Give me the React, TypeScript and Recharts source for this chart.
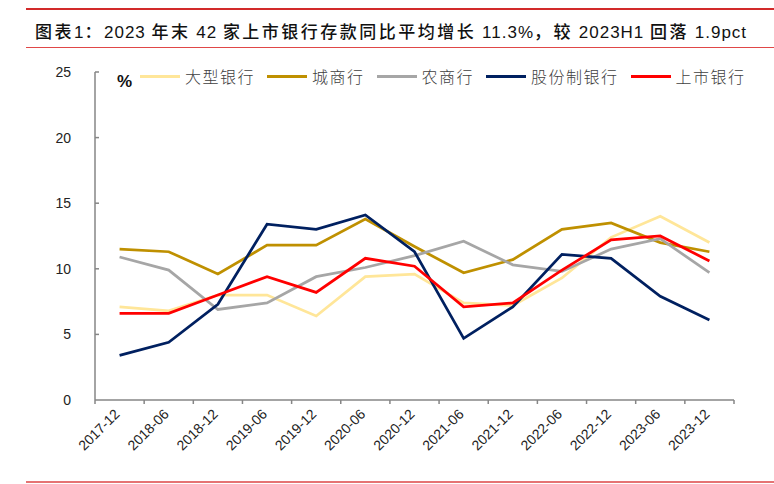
import React from "react";
import { Line, LineChart, XAxis, YAxis } from "recharts";

const categories = ["2017-12", "2018-06", "2018-12", "2019-06", "2019-12", "2020-06", "2020-12", "2021-06", "2021-12", "2022-06", "2022-12", "2023-06", "2023-12"];
const largeBanks = [7.1, 6.8, 8.0, 8.0, 6.4, 9.4, 9.6, 7.4, 7.2, 9.3, 12.4, 14.0, 12.0];
const cityBanks = [11.5, 11.3, 9.6, 11.8, 11.8, 13.8, 11.7, 9.7, 10.7, 13.0, 13.5, 12.0, 11.3];
const ruralBanks = [10.9, 9.9, 6.9, 7.4, 9.4, 10.1, 11.0, 12.1, 10.3, 9.8, 11.5, 12.3, 9.7];
const jointStockBanks = [3.4, 4.4, 7.3, 13.4, 13.0, 14.1, 11.3, 4.7, 7.1, 11.1, 10.8, 7.9, 6.1];
const listedBanks = [6.6, 6.6, 8.0, 9.4, 8.2, 10.8, 10.2, 7.1, 7.4, 9.9, 12.2, 12.5, 10.6];
const yTicks = [0, 5, 10, 15, 20, 25];

const title = "图表1：2023 年末 42 家上市银行存款同比平均增长 11.3%，较 2023H1 回落 1.9pct";

const series = [
  { key: "large", name: "大型银行", values: largeBanks, color: "#FFE699" },
  { key: "city", name: "城商行", values: cityBanks, color: "#BF9000" },
  { key: "rural", name: "农商行", values: ruralBanks, color: "#A6A6A6" },
  { key: "joint", name: "股份制银行", values: jointStockBanks, color: "#002060" },
  { key: "listed", name: "上市银行", values: listedBanks, color: "#FF0000" },
];

const data = categories.map((label, i) => {
  const row: Record<string, string | number> = { label };
  series.forEach((s) => (row[s.key] = s.values[i]));
  return row;
});

const PLOT_LEFT = 95;
const PLOT_RIGHT = 734;
const STEP = (PLOT_RIGHT - PLOT_LEFT) / categories.length;
const AXIS = "#868686";
const FONT = "'Liberation Sans', Arial, sans-serif";
const CJK = "'Noto Sans CJK SC', sans-serif";

function XTick(props: any) {
  const { x, y, payload, index, visibleTicksCount } = props;
  const last = index === visibleTicksCount - 1;
  return (
    <g>
      <line x1={x - STEP / 2} x2={x - STEP / 2} y1={y} y2={y + 4} stroke={AXIS} strokeWidth={1.5} />
      {last && <line x1={x + STEP / 2} x2={x + STEP / 2} y1={y} y2={y + 4} stroke={AXIS} strokeWidth={1.5} />}
      <text
        x={x + 1}
        y={y + 15}
        transform={`rotate(-45, ${x + 1}, ${y + 15})`}
        textAnchor="end"
        fontSize={14}
        fontFamily={FONT}
        fill="#222"
      >
        {payload.value}
      </text>
    </g>
  );
}

function YTick(props: any) {
  const { x, y, payload } = props;
  return (
    <g>
      {payload.value !== 0 && <line x1={x + 24} x2={x + 28} y1={y} y2={y} stroke={AXIS} strokeWidth={1.5} />}
      <text x={x} y={y} dy={5} textAnchor="end" fontSize={14} fontFamily={FONT} fill="#222">
        {payload.value}
      </text>
    </g>
  );
}

function Title() {
  const parts = title.split(/([\u3000-\u9fff\uff00-\uffef]+)/).filter(Boolean);
  return (
    <div style={{ position: "absolute", left: 35, top: 19, fontSize: 17, lineHeight: "24px", color: "#111", whiteSpace: "nowrap" }}>
      {parts.map((p, i) =>
        /[\u3000-\u9fff\uff00-\uffef]/.test(p) ? (
          <span key={i} style={{ fontFamily: CJK, letterSpacing: 2.5, fontWeight: 500 }}>{p}</span>
        ) : (
          <span key={i} style={{ fontFamily: FONT, letterSpacing: 1 }}>{p}</span>
        )
      )}
    </div>
  );
}

function LegendBox() {
  return (
    <div style={{ position: "absolute", left: 140, top: 66, display: "flex", alignItems: "center", fontFamily: CJK, fontSize: 16, letterSpacing: 1.5, color: "#404040" }}>
      {series.map((s) => (
        <div key={s.key} style={{ display: "flex", alignItems: "center", marginRight: 12 }}>
          <div style={{ width: 40, height: 3, background: s.color, marginRight: 5 }} />
          <span style={{ whiteSpace: "nowrap", lineHeight: "20px", fontWeight: 300 }}>{s.name}</span>
        </div>
      ))}
    </div>
  );
}

export default function App() {
  return (
    <div style={{ position: "absolute", left: 0, top: 0, width: 774, height: 484, background: "#fff", overflow: "hidden" }}>
      <div style={{ position: "absolute", left: 26, right: 0, top: 8, height: 2, background: "#D22A2A" }} />
      <Title />
      <div style={{ position: "absolute", left: 26, right: 0, top: 47, height: 1, background: "#E04848" }} />

      <LineChart width={774} height={484} data={data} margin={{ top: 72, right: 774 - PLOT_RIGHT, bottom: 0, left: 30 }}>
        <XAxis
          dataKey="label"
          height={84}
          interval={0}
          padding={{ left: STEP / 2, right: STEP / 2 }}
          stroke={AXIS}
          strokeWidth={1.5}
          tickLine={false}
          tickSize={0}
          tickMargin={0}
          tick={<XTick />}
        />
        <YAxis
          width={PLOT_LEFT - 30}
          domain={[0, 25]}
          ticks={yTicks}
          interval={0}
          stroke={AXIS}
          strokeWidth={1.5}
          tickLine={false}
          tickSize={0}
          tickMargin={24}
          tick={<YTick />}
        />
        {series.map((s) => (
          <Line
            key={s.key}
            dataKey={s.key}
            name={s.name}
            type="linear"
            stroke={s.color}
            strokeWidth={2.75}
            dot={false}
            activeDot={false}
            isAnimationActive={false}
          />
        ))}
      </LineChart>

      <div style={{ position: "absolute", left: 117, top: 72, fontFamily: FONT, fontSize: 17, fontWeight: 700, color: "#111" }}>%</div>
      <LegendBox />
      <div style={{ position: "absolute", left: 26, right: 0, top: 481, height: 2, background: "#E57373" }} />
    </div>
  );
}
